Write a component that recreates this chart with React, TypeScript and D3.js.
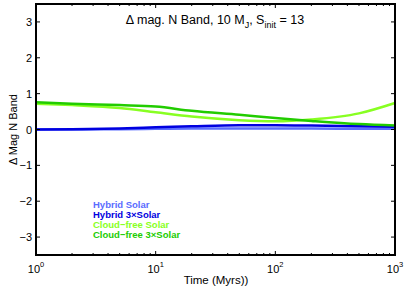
import { useEffect, useRef } from "react";
import * as d3 from "d3";

const times = [1, 2, 5, 10, 20, 50, 100, 200, 500, 1000];
const hybridSolar = [0.0, 0.0, 0.01, 0.02, 0.03, 0.03, 0.03, 0.03, 0.02, 0.02];
const hybrid3Solar = [0.0, 0.01, 0.03, 0.06, 0.09, 0.12, 0.12, 0.11, 0.09, 0.08];
const cloudFreeSolar = [0.72, 0.68, 0.6, 0.48, 0.36, 0.26, 0.23, 0.28, 0.45, 0.74];
const cloudFree3Solar = [0.76, 0.72, 0.68, 0.64, 0.52, 0.41, 0.32, 0.24, 0.15, 0.11];

const seriesNames = ["Hybrid Solar", "Hybrid 3×Solar", "Cloud\u2212free Solar", "Cloud\u2212free 3×Solar"];
const seriesColors = ["#5a6cff", "#0000e0", "#88ff22", "#22cc00"];
const yTicks = [-3, -2, -1, 0, 1, 2, 3];
const xTicks = [1, 10, 100, 1000];

export default function App() {
  const svgRef = useRef<SVGSVGElement>(null);

  useEffect(() => {
    if (!svgRef.current) return;
    const svg = d3.select(svgRef.current);
    svg.selectAll("*").remove();

    const width = 407;
    const height = 289;
    const margin = { top: 4, right: 12, bottom: 34, left: 36 };
    const font = "Liberation Sans, Arial, sans-serif";

    const x = d3.scaleLog().domain([1, 1000]).range([margin.left, width - margin.right]);
    const y = d3.scaleLinear().domain([-3.5, 3.5]).range([height - margin.bottom, margin.top]);

    const [x0, x1] = x.range();
    const [y0, y1] = y.range();

    svg.append("rect").attr("width", width).attr("height", height).attr("fill", "white");

    // lines
    const data = [hybridSolar, hybrid3Solar, cloudFreeSolar, cloudFree3Solar];
    const line = d3
      .line<number>()
      .x((_, i) => x(times[i]))
      .y((d) => y(d))
      .curve(d3.curveMonotoneX);

    data.forEach((vals, k) => {
      svg
        .append("path")
        .attr("d", line(vals))
        .attr("fill", "none")
        .attr("stroke", seriesColors[k])
        .attr("stroke-width", 2.5);
    });

    // ticks (inward, all sides)
    const g = svg.append("g").attr("stroke", "black").attr("stroke-width", 1);
    const minor: number[] = [];
    for (let e = 0; e < 3; e++) for (let m = 2; m <= 9; m++) minor.push(m * 10 ** e);
    minor.forEach((t) => {
      g.append("line").attr("x1", x(t)).attr("x2", x(t)).attr("y1", y0).attr("y2", y0 - 2);
      g.append("line").attr("x1", x(t)).attr("x2", x(t)).attr("y1", y1).attr("y2", y1 + 2);
    });
    xTicks.forEach((t) => {
      g.append("line").attr("x1", x(t)).attr("x2", x(t)).attr("y1", y0).attr("y2", y0 - 4);
      g.append("line").attr("x1", x(t)).attr("x2", x(t)).attr("y1", y1).attr("y2", y1 + 4);
    });
    yTicks.forEach((v) => {
      g.append("line").attr("x1", x0).attr("x2", x0 + 4).attr("y1", y(v)).attr("y2", y(v));
      g.append("line").attr("x1", x1).attr("x2", x1 - 4).attr("y1", y(v)).attr("y2", y(v));
    });

    // frame
    svg
      .append("rect")
      .attr("x", x0)
      .attr("y", y1)
      .attr("width", x1 - x0)
      .attr("height", y0 - y1)
      .attr("fill", "none")
      .attr("stroke", "black")
      .attr("stroke-width", 2);

    // y tick labels
    yTicks.forEach((v) => {
      svg
        .append("text")
        .attr("x", x0 - 4)
        .attr("y", y(v) + 4)
        .attr("text-anchor", "end")
        .attr("font-family", font)
        .attr("font-size", 11)
        .text(v < 0 ? `\u2212${-v}` : `${v}`);
    });

    // x tick labels
    xTicks.forEach((t) => {
      const txt = svg
        .append("text")
        .attr("x", x(t))
        .attr("y", y0 + 18)
        .attr("text-anchor", "middle")
        .attr("font-family", font)
        .attr("font-size", 11);
      txt.append("tspan").text("10");
      txt
        .append("tspan")
        .attr("dy", -6)
        .attr("font-size", 7.5)
        .text(`${Math.round(Math.log10(t))}`);
    });

    // axis labels
    svg
      .append("text")
      .attr("x", 216)
      .attr("y", 284)
      .attr("text-anchor", "middle")
      .attr("font-family", font)
      .attr("font-size", 11.5)
      .text("Time (Myrs))");

    svg
      .append("text")
      .attr("transform", `translate(17,${y(0)}) rotate(-90)`)
      .attr("text-anchor", "middle")
      .attr("font-family", font)
      .attr("font-size", 11)
      .text("\u0394 Mag N Band");

    // title
    const title = svg
      .append("text")
      .attr("x", 215)
      .attr("y", 24)
      .attr("text-anchor", "middle")
      .attr("font-family", font)
      .attr("font-size", 12.5);
    title.append("tspan").text("\u0394 mag. N Band, 10 M");
    title.append("tspan").attr("dy", 3.5).attr("font-size", 9).text("J");
    title.append("tspan").attr("dy", -3.5).text(", S");
    title.append("tspan").attr("dy", 3.5).attr("font-size", 9).text("init");
    title.append("tspan").attr("dy", -3.5).text(" = 13");

    // legend
    seriesNames.forEach((name, k) => {
      svg
        .append("text")
        .attr("x", 93)
        .attr("y", 207.5 + k * 10.3)
        .attr("font-family", font)
        .attr("font-size", 9.5)
        .attr("font-weight", "bold")
        .attr("fill", seriesColors[k])
        .text(name);
    });
  }, []);

  return (
    <svg
      ref={svgRef}
      width={407}
      height={289}
      style={{ position: "absolute", left: 0, top: 0 }}
    />
  );
}
